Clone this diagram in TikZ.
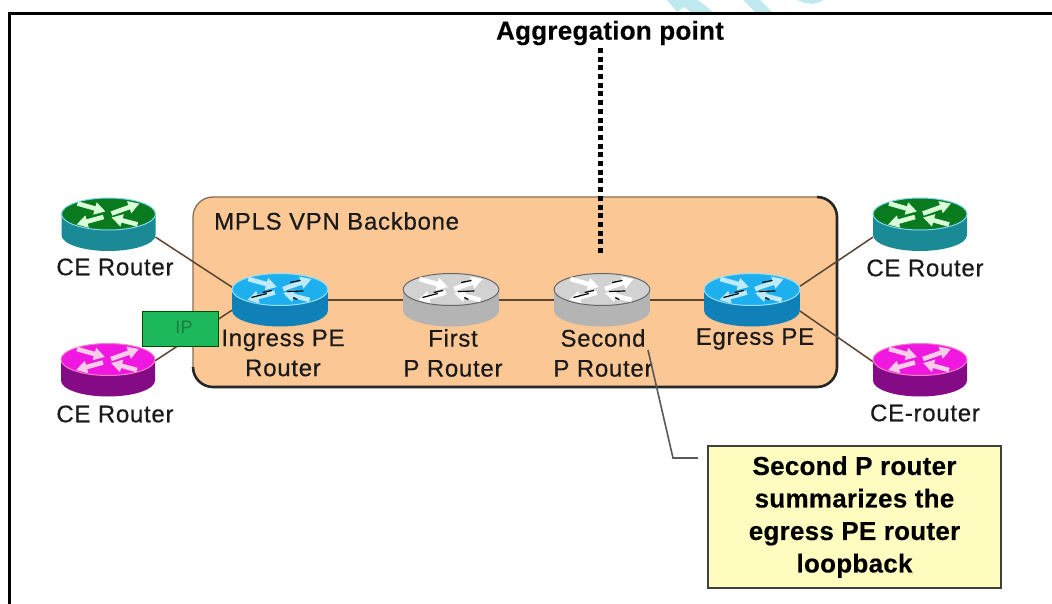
\documentclass[tikz,border=0pt]{standalone}
\usepackage{fontspec}
\setmainfont{Liberation Sans}
\newfontfamily\lblfont[LetterSpace=3,FakeBold=0.5]{Liberation Sans}
\newfontfamily\boldfont[LetterSpace=1,FakeBold=0.3]{Liberation Sans Bold}
\usetikzlibrary{arrows.meta}
\definecolor{bbfill}{HTML}{FBC795}
\definecolor{ink}{HTML}{1A1A1A}
\definecolor{linkc}{HTML}{5A4432}
\definecolor{wm}{HTML}{BFE9EF}
\definecolor{gside}{HTML}{1A8A96}
\definecolor{gtop}{HTML}{0A7A1E}
\definecolor{pside}{HTML}{850A85}
\definecolor{ptop}{HTML}{F018E0}
\definecolor{bside}{HTML}{1080B8}
\definecolor{btop}{HTML}{1EB0EE}
\definecolor{sside}{HTML}{B4B4B4}
\definecolor{stop}{HTML}{D2D2D2}
\definecolor{ipfill}{HTML}{1DB85C}
\definecolor{iptext}{HTML}{1F7A42}
\tikzset{
  x=1pt,y=-1pt,
  lbl/.style={font=\lblfont\fontsize{24}{30}\selectfont,text=ink,align=center,inner sep=0pt},
  bold/.style={font=\boldfont\fontsize{26}{32.5}\selectfont,text=black,align=center,inner sep=0pt},
  routerbox/.style={rectangle,minimum width=#1*2pt,minimum height=53pt,inner sep=0pt,outer sep=0pt},
  linkline/.style={draw=linkc,line width=1.5pt},
  pics/router/.style n args={5}{code={
    % #1 side, #2 top, #3 arrow, #4 edge, #5 streak
    \fill[#1] (-47,-10.5) -- (-47,10.5) arc[x radius=47,y radius=16,start angle=180,end angle=0] -- (47,-10.5) -- cycle;
    \filldraw[fill=#2,draw=#4,line width=1pt] (0,-10.5) ellipse[x radius=47,y radius=16];
    \begin{scope}[shift={(0,-10.5)},draw=#3,fill=#3,line width=4.6pt,
        arr/.style={-{Triangle[width=12pt,length=11pt]}}]
      \draw[arr] (-31,-10.5) -- (-3,-2.5);
      \draw[arr] (3,-0.5) -- (31,-10.5);
      \draw[arr] (-5,3) -- (-32,10.5);
      \draw[arr] (29,10.5) -- (3,3.5);
      \draw[#5,line width=1.2pt] (-28,8) -- (-13,4);
      \draw[#5,line width=1.2pt] (-17,3) -- (-8,1);
      \draw[#5,line width=1.2pt] (10,-7) -- (20,-9);
      \draw[#5,line width=1.2pt] (7,2) -- (23,1.5);
      \draw[#5,line width=1.2pt] (13,8) -- (17,10);
    \end{scope}
  }},
}
\begin{document}
\begin{tikzpicture}
\useasboundingbox (0,0) rectangle (1052,604);
\fill[white] (0,0) rectangle (1052,604);
% watermark fragments
\fill[wm] (667,0) -- (677,12) -- (684,7) -- (691,12) -- (713,12) -- (698,0) -- cycle;
\fill[wm] (743,0) -- (755,12) -- (772,12) -- (760,0) -- cycle;
\fill[wm] (797,0) -- (805,3) -- (812,4) -- (820,2) -- (823,0) -- cycle;
% frame
\draw[black,line width=3pt] (1052,13.5) -- (9.5,13.5) -- (9.5,604);
% backbone
\node[rectangle,rounded corners=20pt,fill=bbfill,draw=bbfill!55!black,line width=1.3pt,
      minimum width=644pt,minimum height=190pt,inner sep=0pt] (bb) at (515,292) {};
\draw[black!85,line width=2.6pt,rounded corners=20pt] (193,367) -- (193,387) -- (837,387) -- (837,197) -- (817,197);
\node[lbl,anchor=west] (bbl) at (214,221) {MPLS VPN Backbone};
% router anchors
\node[routerbox=47] (ce1) at (108.5,224.5) {};
\node[routerbox=47] (ce2) at (108,370) {};
\node[routerbox=47] (ce3) at (920,224.5) {};
\node[routerbox=47] (ce4) at (920,370) {};
\node[routerbox=48] (ing) at (280,300) {};
\node[routerbox=48] (p1) at (451,300) {};
\node[routerbox=48] (p2) at (602,300) {};
\node[routerbox=48] (eg) at (752,300) {};
% connectors
\draw[linkline] (ce1.-15) -- (ing.165);
\draw[linkline] (ce2.11) -- (ing.192);
\draw[linkline] (ing.east) -- (p1.west);
\draw[linkline] (p1.east) -- (p2.west);
\draw[linkline] (p2.east) -- (eg.west);
\draw[linkline] (eg.16) -- (ce3.195);
\draw[linkline] (eg.-13) -- (ce4.170);
% routers
\pic at (ce1.center) {router={gside}{gtop}{white!85!green}{cyan!50}{draw=none}};
\pic at (ce3.center) {router={gside}{gtop}{white!85!green}{cyan!50}{draw=none}};
\pic at (ce2.center) {router={pside}{ptop}{white!80!magenta}{magenta!50}{draw=none}};
\pic at (ce4.center) {router={pside}{ptop}{white!80!magenta}{magenta!50}{draw=none}};
\pic[xscale=1.02] at (ing.center) {router={bside}{btop}{white!75!cyan}{white!60!cyan}{black}};
\pic[xscale=1.02] at (eg.center) {router={bside}{btop}{white!75!cyan}{white!60!cyan}{black}};
\pic[xscale=1.02] at (p1.center) {router={sside}{stop}{white}{black!60}{black}};
\pic[xscale=1.02] at (p2.center) {router={sside}{stop}{white}{black!60}{black}};
% labels
\node[lbl] (l1) at (115,267) {CE Router};
\node[lbl] (l2) at (115,414) {CE Router};
\node[lbl] (l3) at (925,268) {CE Router};
\node[lbl] (l4) at (925,413) {CE-router};
\node[lbl] (l5) at (283,353) {Ingress PE\\Router};
\node[lbl] (l6) at (453,353) {First\\P Router};
\node[lbl] (l7) at (603,353) {Second\\P Router};
\node[lbl] (l8) at (755,339) {Egress PE};
% IP packet
\node[rectangle,fill=ipfill,draw=green!30!black,line width=1pt,minimum width=76pt,
      minimum height=35pt,inner sep=0pt,font=\fontsize{18}{20}\selectfont,text=iptext] (ip) at (180,328.5) {\hspace*{8pt}\raisebox{3pt}{IP}};
% aggregation
\node[bold] (agg) at (610,33) {Aggregation point};
\coordinate (dottop) at (600,48);
\coordinate (dotend) at (600,255);
\draw[black,line width=5pt,dash pattern=on 5pt off 3.7pt] (dottop) -- (dotend);
% callout
\node[rectangle,fill=yellow!25,draw=black!75,line width=1.6pt,minimum width=293pt,minimum height=142pt,
      inner sep=0pt,bold] (note) at (854.5,517) {Second P router\\summarizes the\\egress PE router\\loopback};
\coordinate (lead1) at (648,350);
\coordinate (lead2) at (673,458);
\coordinate (lead3) at (698,458);
\draw[black!65,line width=1.6pt] (lead1) -- (lead2) -- (lead3);
\end{tikzpicture}
\end{document}
